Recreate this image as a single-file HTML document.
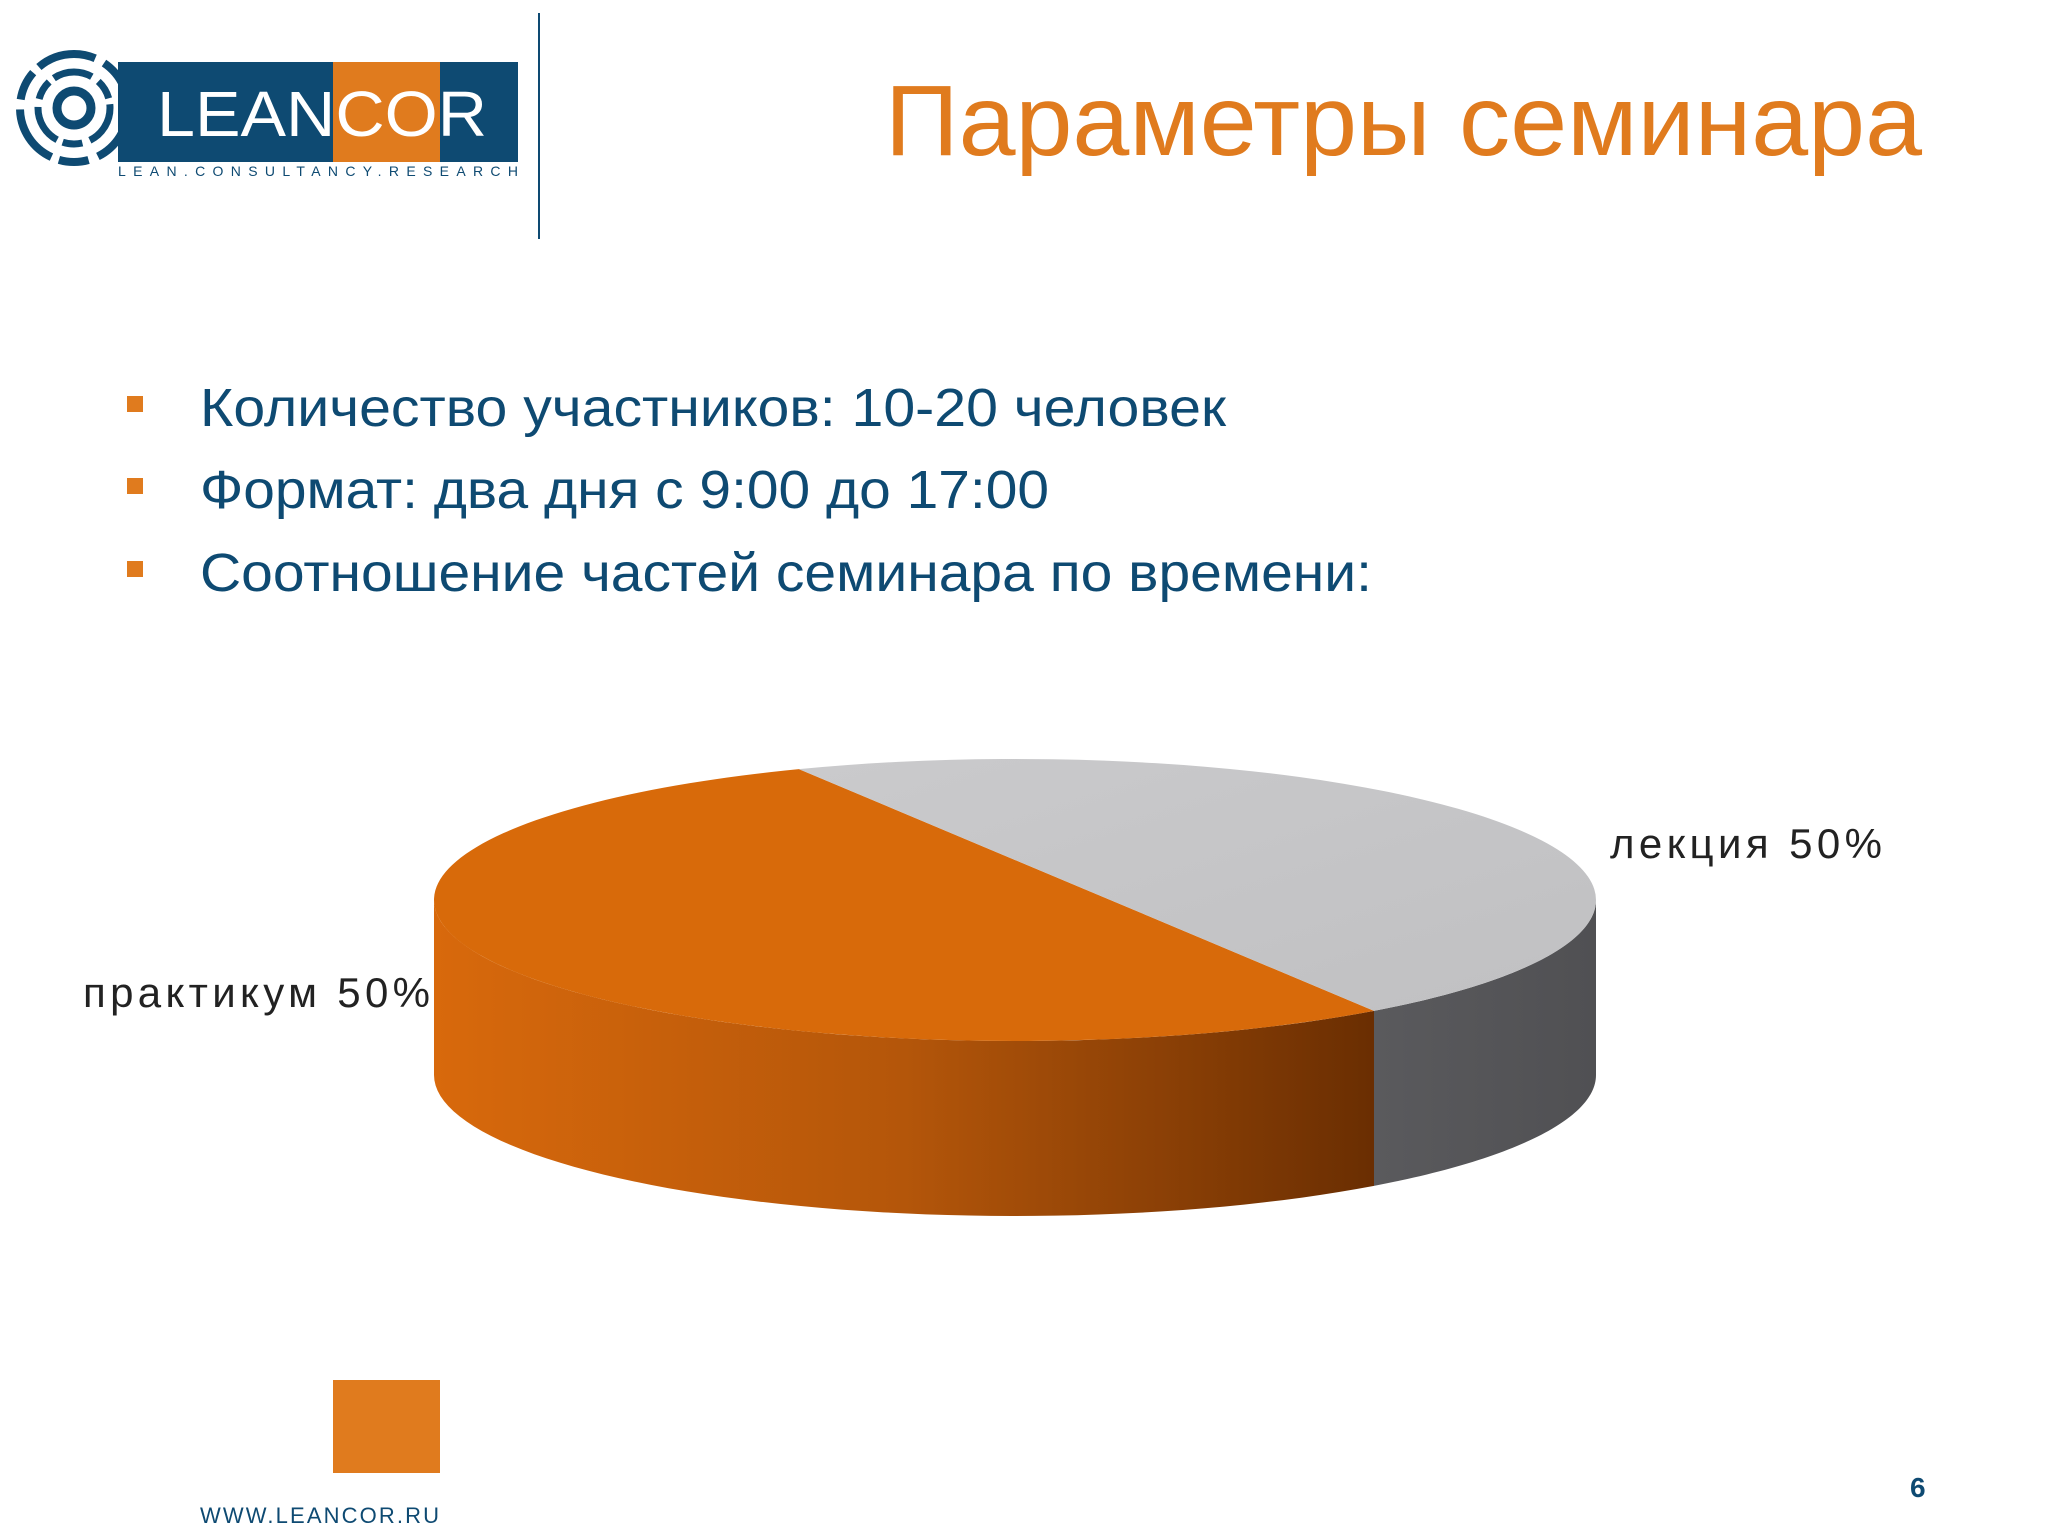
<!DOCTYPE html>
<html><head><meta charset="utf-8"><style>
html,body{margin:0;padding:0;background:#fff}
svg{display:block}
text{font-family:"Liberation Sans","Noto Sans CJK SC",sans-serif}
</style></head><body>
<svg width="2048" height="1536" viewBox="0 0 2048 1536">
<defs>
<linearGradient id="og" x1="0" x2="1" y1="0" y2="0">
<stop offset="0" stop-color="#D8690C"/><stop offset="0.5" stop-color="#B4560A"/><stop offset="1" stop-color="#6A2E02"/>
</linearGradient>
<linearGradient id="gg" x1="0" x2="1" y1="0" y2="0">
<stop offset="0" stop-color="#5a5a5d"/><stop offset="1" stop-color="#505053"/>
</linearGradient>
<linearGradient id="gt" x1="0" x2="1" y1="0" y2="1">
<stop offset="0" stop-color="#CACACC"/><stop offset="1" stop-color="#C0C0C2"/>
</linearGradient>
</defs>
<g>
<g fill="none" stroke="#0E4A72">
<circle cx="74" cy="108" r="54" stroke-width="8" stroke-dasharray="60 10 30 8"/>
<circle cx="74" cy="108" r="36" stroke-width="7" stroke-dasharray="40 8 20 6"/>
<circle cx="74" cy="108" r="17" stroke-width="9"/>
</g>
<rect x="118" y="62" width="400" height="100" fill="#0E4A72"/>
<rect x="333" y="62" width="107" height="100" fill="#E07B1E"/>
<text x="157" y="136" font-size="64" fill="#fff" textLength="330" lengthAdjust="spacingAndGlyphs">LEANCOR</text>
<text x="118" y="176" font-size="14" fill="#0E4A72" textLength="400" lengthAdjust="spacing">LEAN.CONSULTANCY.RESEARCH</text>
</g>
<rect x="538" y="13" width="2" height="226" fill="#0E4A72"/>
<text x="885" y="155" font-size="100" fill="#E07B1E" textLength="1037" lengthAdjust="spacingAndGlyphs">Параметры семинара</text>
<g fill="#0E4A72" font-size="54">
<rect x="127" y="396" width="16" height="16" fill="#E07B1E"/>
<text x="200" y="426" textLength="1026" lengthAdjust="spacingAndGlyphs">Количество участников: 10-20 человек</text>
<rect x="127" y="478" width="16" height="16" fill="#E07B1E"/>
<text x="200" y="508" textLength="849" lengthAdjust="spacingAndGlyphs">Формат: два дня с 9:00 до 17:00</text>
<rect x="127" y="561" width="16" height="16" fill="#E07B1E"/>
<text x="200" y="591" textLength="1172" lengthAdjust="spacingAndGlyphs">Соотношение частей семинара по времени:</text>
</g>
<g id="pie"></g>
<text x="1610" y="858" font-size="42" fill="#222" textLength="272" lengthAdjust="spacing">лекция 50%</text>
<text x="83" y="1007" font-size="42" fill="#222" textLength="347" lengthAdjust="spacing">практикум 50%</text>
<rect x="333" y="1380" width="107" height="93" fill="#E07B1E"/>
<text x="200" y="1523" font-size="22" fill="#0E4A72" letter-spacing="5" textLength="244" lengthAdjust="spacing">WWW.LEANCOR.RU</text>
<text x="1910" y="1497" font-size="28" font-weight="bold" fill="#0E4A72">6</text>
</svg>
<script>
const categories = ["практикум", "лекция"];
const values = [50, 50];
const topColors = ["#D86A0A", "url(#gt)"];
const sideColors = ["url(#og)", "url(#gg)"];
(function(){
  const g = document.getElementById('pie');
  const cx=1015, cy=900, rx=581, ry=141, depth=175;
  const ay=-0.284; // apex offset (normalized), perspective
  const startDeg=-120;
  const total = values.reduce((a,b)=>a+b,0);
  const NS='http://www.w3.org/2000/svg';
  // map pie angle (from apex) to ellipse parameter t
  function toT(theta){
    const dx=Math.cos(theta), dy=Math.sin(theta);
    const b=2*ay*dy, c=ay*ay-1;
    const s=(-b+Math.sqrt(b*b-4*c))/2;
    return Math.atan2(ay+s*dy, s*dx);
  }
  const pt=(t,dy)=>[cx+rx*Math.cos(t), cy+ry*Math.sin(t)+(dy||0)];
  let a=startDeg*Math.PI/180; const slices=[];
  values.forEach((v,i)=>{
    const s=a, e=a-v/total*2*Math.PI;
    let ts=toT(s), te=toT(e);
    while(te>ts) te-=2*Math.PI;
    while(ts-te>2*Math.PI+1e-9) te+=2*Math.PI;
    slices.push([ts,te,i]); a=e;
    // keep continuity for next
  });
  slices.forEach(([s,e,i])=>{
    let lo=Math.min(s,e), hi=Math.max(s,e);
    for(let k=-2;k<=2;k++){
      const a0=Math.max(lo,k*2*Math.PI), a1=Math.min(hi,k*2*Math.PI+Math.PI);
      if(a1>a0){
        let d='';const N=60;
        for(let j=0;j<=N;j++){const t=a0+(a1-a0)*j/N;const p=pt(t);d+=(j?'L':'M')+p[0]+' '+p[1];}
        for(let j=N;j>=0;j--){const t=a0+(a1-a0)*j/N;const p=pt(t,depth);d+='L'+p[0]+' '+p[1];}
        const path=document.createElementNS(NS,'path');
        path.setAttribute('d',d+'Z');path.setAttribute('fill',sideColors[i]);
        
        
        g.appendChild(path);
      }
    }
  });
  const ax=cx, apy=cy+ay*ry;
  slices.forEach(([s,e,i])=>{
    const p0=pt(s),p1=pt(e);
    const large=Math.abs(s-e)>Math.PI?1:0;
    const sweep=e>s?1:0;
    const d='M'+ax+' '+apy+'L'+p0[0]+' '+p0[1]+'A'+rx+' '+ry+' 0 '+large+' '+sweep+' '+p1[0]+' '+p1[1]+'Z';
    const path=document.createElementNS(NS,'path');
    path.setAttribute('d',d);path.setAttribute('fill',topColors[i]);
    
    
    g.appendChild(path);
  });
})();
</script>
</body></html>
